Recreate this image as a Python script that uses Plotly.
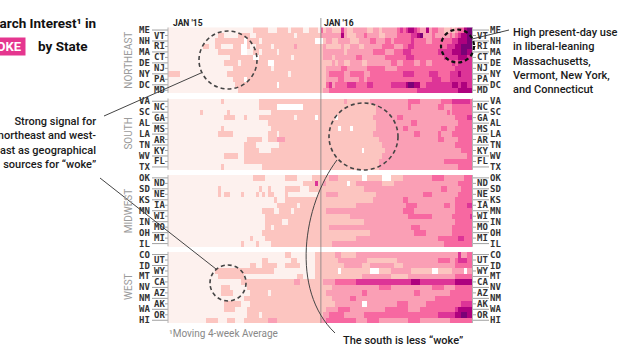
import numpy as np
import pandas as pd
import plotly.graph_objects as go

W, H = 640, 360

# ---------------- data ----------------
region_names = ["NORTHEAST", "SOUTH", "MIDWEST", "WEST"]

northeast_states = ["ME", "VT", "NH", "RI", "MA", "CT", "DE", "NJ", "NY", "PA", "DC", "MD"]
south_states = ["VA", "NC", "SC", "GA", "AL", "MS", "LA", "AR", "TN", "KY", "WV", "FL", "TX"]
midwest_states = ["OK", "ND", "SD", "NE", "KS", "IA", "MN", "WI", "IN", "MO", "OH", "MI", "IL"]
west_states = ["CO", "UT", "ID", "WY", "MT", "CA", "NV", "AZ", "NM", "AK", "WA", "OR", "HI"]

# weekly interest level per state (104 weeks, Jan 2015 - Dec 2016)
# '.' = no data (white), 0..6 = colour bucket
northeast_levels = [
    "00000000 00000000 00000000 00000111 11000111 10111100 11103122 11142112 22221122 12222234 34554322 52332211 21233566",
    "00000000 00000000 01100000 11110011 11111111 11101111 11112222 22252111 22232222 11222233 33344562 22322222 32345566",
    "00000000 00000000 11111111 11.11110 11111111 11111111 11...122 11222211 12222332 22332333 33343333 22333333 34455566",
    "00000000 00001100 11000011 1..10011 11101111 11121111 11111211 11121122 21122222 23333222 33443333 33333334 44556666",
    "00000000 00000000 01111111 1..00110 11111011 11111111 11111222 22221222 22222233 33222333 44433333 33334444 45556655",
    "00000000 00000000 00000111 11111..1 11111111 11011111 11111222 12222222 33222222 22333333 34443333 33333344 44455544",
    "00000000 00000000 00011111 01111111 11..1111 11111111 11111111 21221122 22112222 22223322 33332233 22333333 34344444",
    "00000000 00000000 00000011 11111111 11101111 11111111 11111122 22233222 22223333 33222233 33333333 33333333 33444444",
    "11110000 00000000 00001111 11111111 11111111 10111111 11111123 33332233 33322333 33333333 44443333 34443333 44454444",
    "00000000 00000000 00000011 11.11111 11111111 11111111 11111122 22332222 23323333 33333333 33333333 33444333 44444444",
    "00000000 00000000 00000001 11111111 11111.11 11111111 11111134 23333444 33334433 33334444 45665533 44444444 45545544",
    "00000000 00000000 00000000 11111111 11111111 11111111 11111223 33333333 33333333 33333333 33333444 44444444 44455555",
]
south_levels = [
    "00000000 00000000 00100000 00000001 11111111 11111111 11111111 11112111 11111222 22222222 22333322 22222333 34444443",
    "00000000 00000000 00000000 00000001 11111... ......11 11111111 11111111 11111112 22222222 22322222 22223322 23333333",
    "00000000 00010000 00001000 00000000 00011111 11111111 11111111 11111111 11111112 22222222 22222222 22222223 23333333",
    "00000000 00000000 00011110 00100001 11111111 11101111 11.11111 1.111111 11111122 22222233 22222222 22222222 22333344",
    "00000000 00000000 00000000 00000000 00111111 11111111 11111111 11111111 11111112 22222222 22233222 22222222 22233333",
    "00000000 00000000 00100000 00000000 00011111 11111111 11111111 11.111.1 11111112 22222222 33222222 22222332 22333333",
    "00000000 00000000 01111100 00000000 00111011 11111111 11111111 11111111 11111122 22222222 22223322 22223222 23333333",
    "00000000 00000000 00000000 00011111 00111222 11111111 11111111 11111111 11111111 22222222 22222222 22223322 22233333",
    "00000000 00000000 00000000 00111100 00000011 11111111 11111111 11111111 11111111 12222222 22222222 22222222 22333333",
    "00000000 00000000 00000000 00111110 00011111 11111111 11111111 11111111 11.11111 11222222 22222222 22222222 22223333",
    "00000000 00000000 00011111 00111111 11111111 11111111 11111111 11111111 11111111 12222222 22222222 22222222 22222233",
    "00000000 00000000 00000000 00111111 11111111 11111111 11111111 11111111 11111111 22222222 22222222 22222233 33333333",
    "00000000 00000000 00100000 00000000 11111111 11111111 11111111 11111111 11111111 22222222 22222222 22222222 22233333",
]
midwest_levels = [
    "00000000 00000000 00000000 00000111 10000000 11110000 01111112 22111111 11..1111 1...1111 22222222 22333322 22222333",
    "00000000 00000000 00000000 00000000 00000000 00000011 11411211 11111.11 22222222 21111222 22222222 22222222 22233333",
    "00000000 00000000 01000000 00000001 00100000 11111000 11111111 11111111 11122222 22222222 22222222 22222332 22223333",
    "00000000 00000000 01011000 01000010 10110000 10000000 00011122 22111111 11111112 22222222 22222223 33222222 22233333",
    "00000000 00000000 00000000 00000000 00001000 11111111 11111111 11111111 11111122 22222222 33222222 22222222 22333333",
    "00000000 00000000 00000000 00000000 00000111 11110111 11111111 11111111 22222222 22222222 23333222 22222233 22333344",
    "00000000 00000000 00000000 00000000 11110011 11011111 11111122 22222222 22222222 22222222 33332222 22222222 22333333",
    "00000000 00000000 00000000 00000000 01111111 11111111 11111111 11111122 22222222 22222222 22333333 33222222 23333334",
    "00000000 00000000 00000000 00000000 01111110 01111111 11111111 11111111 11122222 22222222 22222222 22222222 22333333",
    "00000000 00000000 00000000 00000000 01101111 11111111 11111112 22222222 22222222 22222222 22233322 22222222 23333333",
    "00000000 00000000 00000000 00000000 11111111 11111111 11111111 11111111 11111222 22222222 22223333 22222222 23333333",
    "00000000 00000000 00000000 00001000 01111111 11111111 11111111 11111111 22222222 22222222 22222222 22223333 33344333",
    "00000000 00000000 00000000 01000010 00011111 11111111 11111111 22222222 22222222 22222222 22222222 22222233 33333333",
]
west_levels = [
    "00000000 00000000 00000000 00000000 00000000 11000000 00111111 12211111 22222222 22222222 22222222 22222222 22242233",
    "00000000 00000000 00000000 00000000 11000000 00110000 00111111 11222222 22221111 11111122 22222222 22223333 22344433",
    "00000000 00000000 00000000 00001100 11111000 11111000 00111111 11112222 22111222 22222111 22222222 22222222 22333333",
    "00000000 00000000 11111111 11111111 11110000 00000000 00111111 11.11111 11111... 11112222 22211111 11..1111 12222.22",
    "00000000 00000000 01111111 11000000 00000000 00001100 00111111 11111111 11222222 22221111 11222222 22222222 22333333",
    "00000000 00000000 00000000 01111111 11111111 11122111 11111222 23333333 44444444 44444444 44455544 44444444 44555555",
    "00000000 00000000 00111000 00011111 11111111 11111111 11111111 22222222 22222222 33332222 22222222 22333322 22333333",
    "00000000 00000000 00111100 00001111 11011111 11111111 11111122 22222222 22332222 22222222 22223322 22222222 33333333",
    "00000000 00000000 00000000 00111111 11111111 11111111 11111111 22222233 22222222 22222222 22222222 22233333 33333333",
    "00000000 00000000 00011111 10001111 11111111 11111111 11111111 12222222 22..2222 22222233 33222222 33333333 33334444",
    "00000000 00000000 00011110 00011111 11111111 11111111 11111122 22333322 22222222 22333333 33222233 33333333 33455555",
    "00000000 00000000 00000000 00011110 11111111 11111111 11111223 33332222 22233333 33333333 33333333 33334444 44556655",
    "00000000 00000111 10001110 00111111 11222111 11111111 11112233 33333333 22223333 22222222 22333322 22222222 33333333",
]

weeks = pd.date_range("2015-01-04", periods=104, freq="7D")
level_colors = ["#fdf1ee", "#fcc5c0", "#fa9fb5", "#f768a1", "#dd3497", "#ae017e", "#7a0177"]

# ---------------- build matrix ----------------
def parse(s):
    s = s.replace(" ", "")
    return [np.nan if ch == "." else int(ch) for ch in s]

regions = [
    (region_names[0], northeast_states, northeast_levels),
    (region_names[1], south_states, south_levels),
    (region_names[2], midwest_states, midwest_levels),
    (region_names[3], west_states, west_levels),
]

z = []
blocks = []
for i, (name, states, levels) in enumerate(regions):
    if i > 0:
        z.append([np.nan] * len(weeks))
    start = len(z)
    for lv in levels:
        z.append(parse(lv))
    blocks.append((name, states, start, len(z) - 1))

nrows = len(z)
ys = list(range(nrows))

n = len(level_colors)
cs = []
for i, c in enumerate(level_colors):
    cs.append([i / n, c])
    cs.append([(i + 1) / n, c])

def px(x):
    return x / W

def py(y):
    return 1 - y / H

fig = go.Figure(go.Heatmap(
    z=z, x=weeks, y=ys, colorscale=cs, zmin=-0.5, zmax=n - 0.5,
    showscale=False, hoverongaps=False, xgap=0, ygap=0,
))

half = pd.Timedelta(days=3.5)
GL, GR, GT, GB = 168, 472.5, 27.3, 323

fig.update_xaxes(domain=[px(GL), px(GR)], range=[weeks[0] - half, weeks[-1] + half],
                 visible=False, fixedrange=True)
fig.update_yaxes(domain=[py(GB), py(GT)], range=[nrows - 0.5, -0.5], visible=False,
                 fixedrange=True)

annotations = []
shapes = []
mono = dict(family="DejaVu Sans Mono", size=9, color="#333", weight="bold")
tick_line = dict(color="#a0a0a0", width=1)

for name, states, start, end in blocks:
    for k, st in enumerate(states):
        row = start + k
        outer = (k % 2 == 0)
        # left
        annotations.append(dict(xref="paper", yref="y", x=px(151 if outer else 165.5), y=row,
                                text=st, showarrow=False, xanchor="right", yanchor="middle",
                                font=mono, borderpad=0))
        shapes.append(dict(type="line", xref="paper", yref="y",
                           x0=px(152 if outer else 165), x1=px(GL), y0=row, y1=row, line=tick_line))
        # right
        annotations.append(dict(xref="paper", yref="y", x=px(489 if outer else 476), y=row,
                                text=st, showarrow=False, xanchor="left", yanchor="middle",
                                font=mono, borderpad=0))
        shapes.append(dict(type="line", xref="paper", yref="y",
                           x0=px(GR), x1=px(489 if outer else 476), y0=row, y1=row, line=tick_line))
    # block edges
    for xe in (GL, GR):
        shapes.append(dict(type="line", xref="paper", yref="y", x0=px(xe), x1=px(xe),
                           y0=start - 0.5, y1=end + 0.5, line=dict(color="#b5b5b5", width=1)))
    annotations.append(dict(xref="paper", yref="y", x=px(128.5), y=(start + end) / 2,
                            text=name, textangle=-90, showarrow=False,
                            xanchor="center", yanchor="middle",
                            font=dict(family="Roboto", size=10, color="#9b9b9b")))

# Jan '16 marker
shapes.append(dict(type="line", xref="x", yref="paper", x0="2016-01-01", x1="2016-01-01",
                   y0=py(GB), y1=py(18), line=dict(color="rgba(120,120,120,0.75)", width=1)))
annotations.append(dict(xref="x", yref="paper", x=weeks[0] - half, y=py(22.5), text="JAN '15",
                        showarrow=False, xanchor="left", yanchor="middle", xshift=3,
                        font=dict(family="Roboto", size=8.5, color="#222", weight="bold")))
annotations.append(dict(xref="x", yref="paper", x="2016-01-01", y=py(22.5), text="JAN '16",
                        showarrow=False, xanchor="left", yanchor="middle", xshift=1,
                        font=dict(family="Roboto", size=8.5, color="#222", weight="bold")))

# title
annotations.append(dict(xref="paper", yref="paper", x=px(98), y=py(23), text="Search Interest¹ in",
                        showarrow=False, xanchor="right", yanchor="middle",
                        font=dict(family="Roboto", size=13.5, color="#111", weight="bold")))
annotations.append(dict(xref="paper", yref="paper", x=px(26), y=py(46), text=" WOKE ",
                        showarrow=False, xanchor="right", yanchor="middle", bgcolor="#e5368f",
                        borderpad=1,
                        font=dict(family="Roboto", size=13, color="white", weight="bold")))
annotations.append(dict(xref="paper", yref="paper", x=px(36), y=py(46), text="by State",
                        showarrow=False, xanchor="left", yanchor="middle",
                        font=dict(family="Roboto", size=13.5, color="#111", weight="bold")))

# footnote
annotations.append(dict(xref="paper", yref="paper", x=px(167), y=py(333), text="¹Moving 4-week Average",
                        showarrow=False, xanchor="left", yanchor="middle",
                        font=dict(family="Roboto", size=10, color="#888")))

note_font = dict(family="Roboto", size=11, color="#1a1a1a", weight=500)
annotations.append(dict(xref="paper", yref="paper", x=px(511), y=py(61),
                        text="High present-day use<br>in liberal-leaning<br>Massachusetts,<br>Vermont, New York,<br>and Connecticut",
                        showarrow=False, xanchor="left", yanchor="middle", align="left", font=note_font))
annotations.append(dict(xref="paper", yref="paper", x=px(98), y=py(143),
                        text="Strong signal for<br>northeast and west-<br>coast as geographical<br>sources for “woke”",
                        showarrow=False, xanchor="right", yanchor="middle", align="right", font=note_font))
annotations.append(dict(xref="paper", yref="paper", x=px(341), y=py(340),
                        text="The south is less “woke”",
                        showarrow=False, xanchor="left", yanchor="middle", align="left", font=note_font))

# callout circles
def circ(x0, y0, x1, y1, color, width):
    return dict(type="circle", xref="paper", yref="paper", x0=px(x0), x1=px(x1),
                y0=py(y1), y1=py(y0), line=dict(color=color, width=width, dash="4px,3px"))

shapes.append(circ(199, 31, 257, 89, "#444", 1.6))
shapes.append(circ(441, 29.5, 474, 62.5, "#111", 2.2))
shapes.append(circ(329, 103, 398, 170, "#444", 1.6))
shapes.append(circ(210, 265, 246, 301, "#444", 1.6))

def seg(x0, y0, x1, y1):
    return dict(type="line", xref="paper", yref="paper", x0=px(x0), y0=py(y0), x1=px(x1), y1=py(y1),
                line=dict(color="#444", width=1))

shapes.append(seg(201, 73, 104, 116))
shapes.append(seg(216, 269, 100, 178))
shapes.append(seg(472, 39, 509, 30))

def P(x, y):
    return f"{px(x):.5f},{py(y):.5f}"

shapes.append(dict(type="path", xref="paper", yref="paper",
                   path=f"M {P(337,160)} C {P(303,205)} {P(290,290)} {P(335,333)}",
                   line=dict(color="#444", width=1)))

fig.update_layout(
    width=W, height=H, margin=dict(l=0, r=0, t=0, b=0),
    paper_bgcolor="white", plot_bgcolor="white",
    annotations=annotations, shapes=shapes, showlegend=False,
)
fig.write_html("out.html", config={"displayModeBar": False},
               post_script="document.body.style.margin='0px';document.body.style.overflow='hidden';")
